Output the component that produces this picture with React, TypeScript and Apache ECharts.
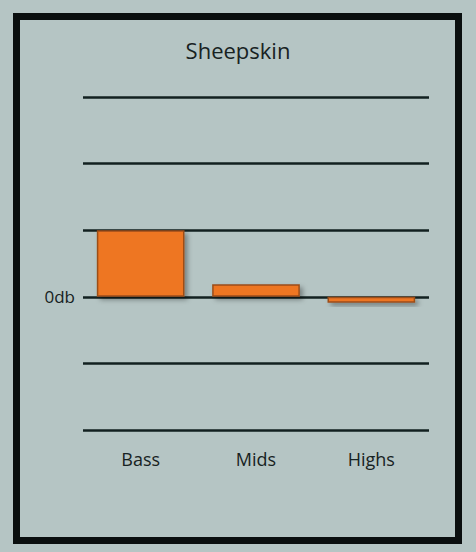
import { useEffect, useRef } from 'react';
import * as echarts from 'echarts';

const categories = ['Bass', 'Mids', 'Highs'];
const levels = [1, 0.19, -0.09];
const yTicks = [-2, -1, 0, 1, 2, 3];

export default function App() {
  const chartRef = useRef<HTMLDivElement>(null);

  useEffect(() => {
    if (!chartRef.current) return;
    document.body.style.margin = '0';

    const chart = echarts.init(chartRef.current, null, { renderer: 'svg' });

    const option = {
      animation: false,
      backgroundColor: '#b5c5c4',
      title: {
        text: 'Sheepskin',
        left: 'center',
        top: 34,
        textStyle: { color: '#172222', fontSize: 22, fontWeight: 'normal', fontFamily: 'Open Sans' },
      },
      graphic: [
        {
          type: 'rect',
          shape: { x: 16.5, y: 16.5, width: 442, height: 524 },
          style: { fill: 'none', stroke: '#0a0f0f', lineWidth: 7 },
        },
      ],
      grid: { left: 83, right: 47, top: 97, bottom: 122 },
      xAxis: {
        type: 'category',
        data: categories,
        position: 'bottom',
        axisLine: { show: false, onZero: false },
        axisTick: { show: false },
        axisLabel: {
          color: '#172222',
          fontSize: 18,
          fontFamily: 'Open Sans',
          margin: 20,
        },
      },
      yAxis: {
        type: 'value',
        min: yTicks[0],
        max: yTicks[yTicks.length - 1],
        interval: 1,
        axisLine: { show: false },
        axisTick: { show: false },
        axisLabel: {
          color: '#172222',
          fontSize: 17,
          fontFamily: 'Open Sans',
          margin: 8,
          formatter: (v: number) => (v === 0 ? '0db' : ''),
        },
        splitLine: { lineStyle: { color: '#122020', width: 2.5 } },
      },
      series: [
        {
          type: 'bar',
          data: levels,
          barWidth: '76%',
          itemStyle: {
            color: '#ee7624',
            borderColor: '#9c4e18',
            borderWidth: 1.5,
            shadowColor: 'rgba(0, 0, 0, 0.35)',
            shadowBlur: 5,
            shadowOffsetX: 3,
            shadowOffsetY: 3,
          },
        },
      ],
    };

    chart.setOption(option);

    return () => {
      chart.dispose();
    };
  }, []);

  return <div ref={chartRef} style={{ width: '476px', height: '552px' }} />;
}
